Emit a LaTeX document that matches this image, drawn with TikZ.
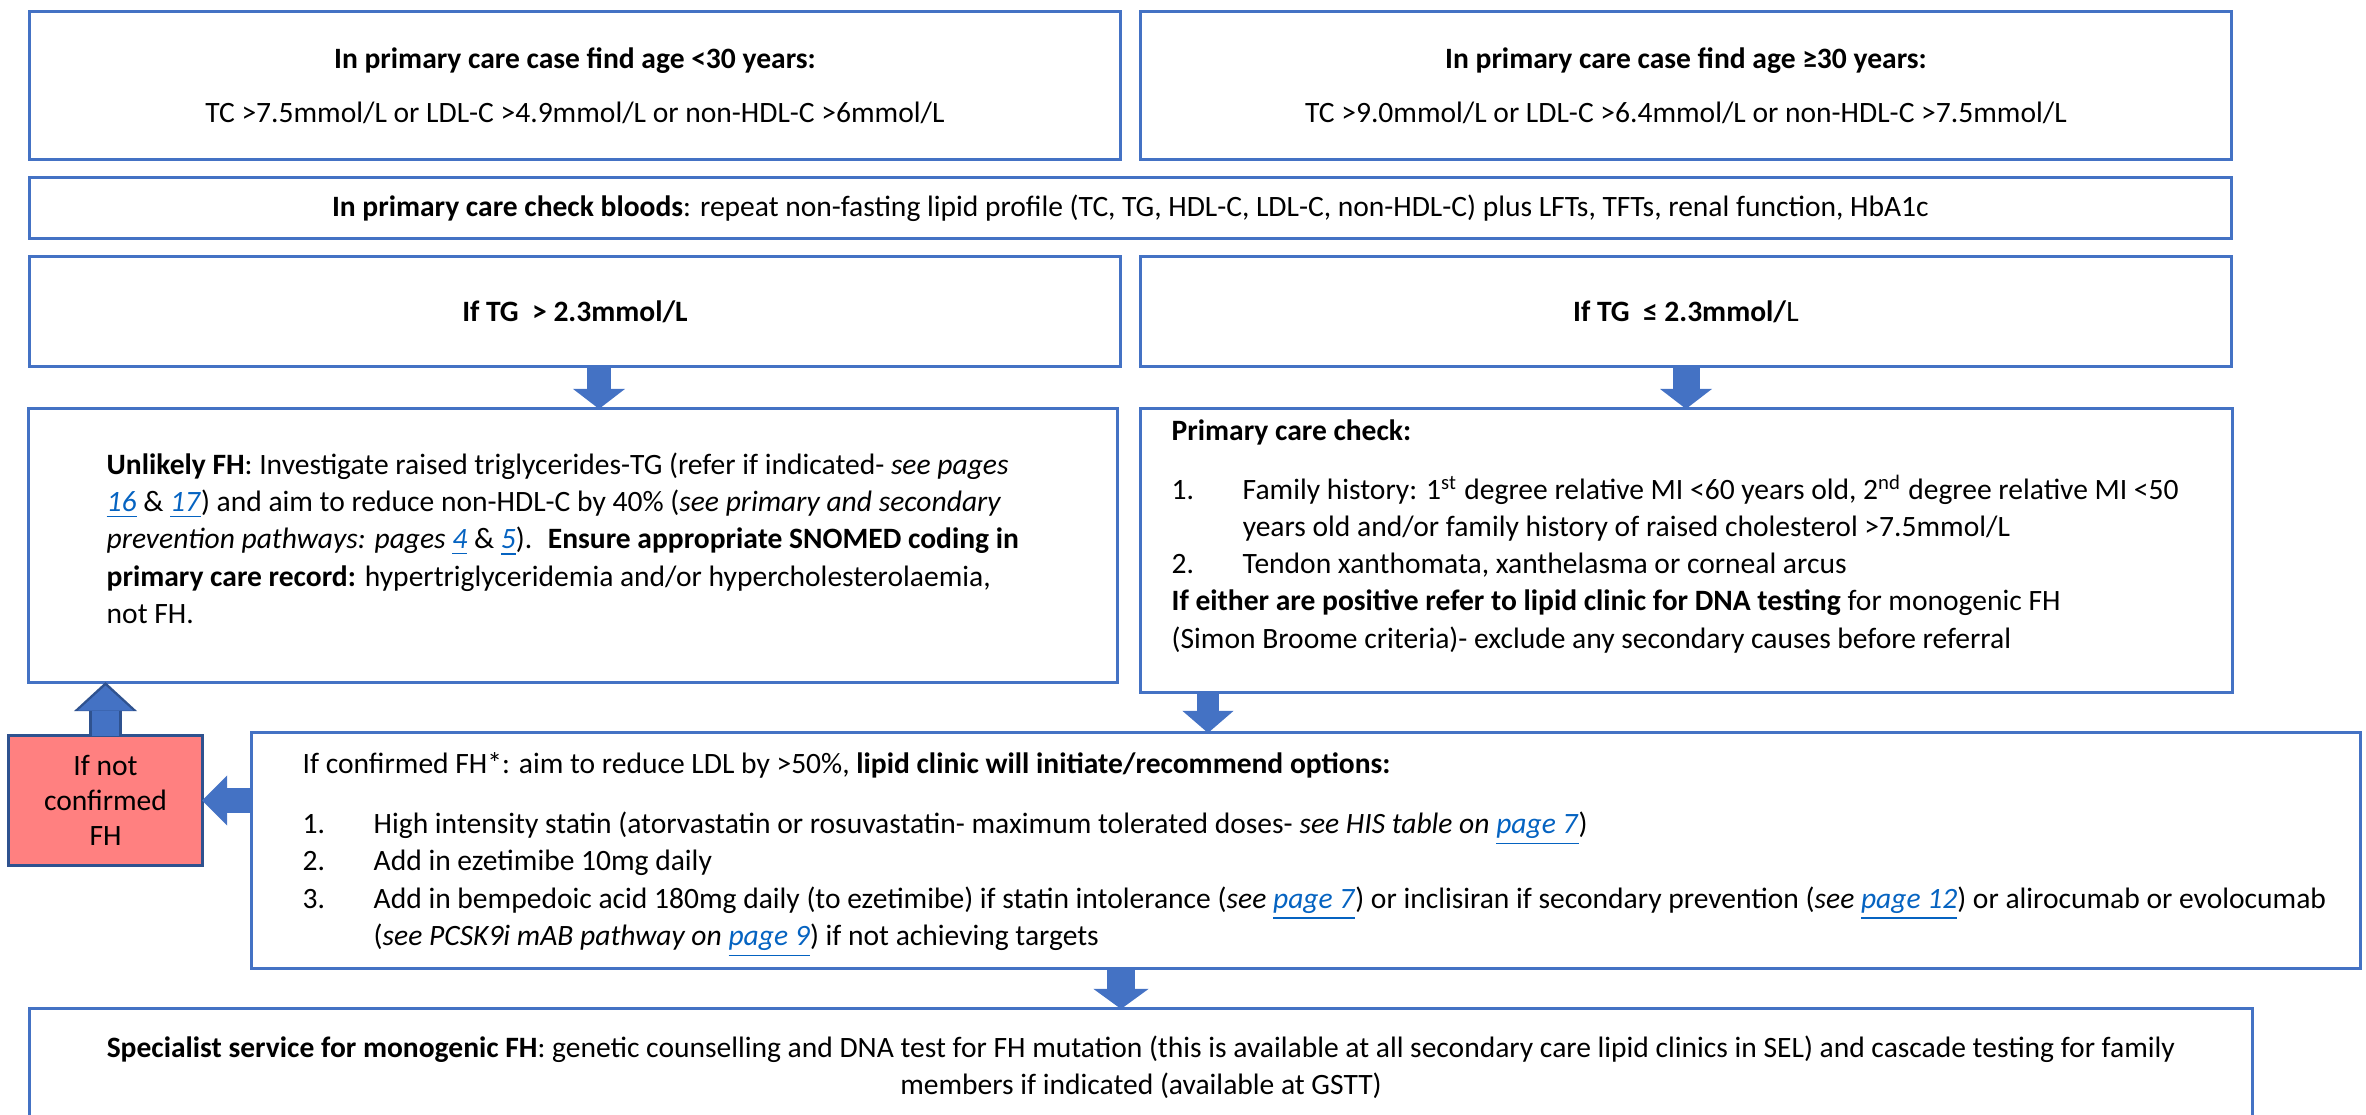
\documentclass[tikz,border=0pt]{standalone}
\usepackage{fontspec}
\setmainfont{Carlito}
\usetikzlibrary{arrows.meta,calc}
\definecolor{boxblue}{HTML}{4472C4}
\definecolor{edgeblue}{HTML}{2F528F}
\definecolor{notfhred}{HTML}{FF8080}
\definecolor{linkblue}{HTML}{0563C1}
\newcommand{\pagelink}[1]{\textcolor{linkblue}{\underline{#1}}}
\newcommand{\itemnum}[1]{\makebox[0.71cm][l]{#1}}
\tikzset{
  flowfont/.style = {font=\fontsize{8.4}{10.6}\selectfont},
  % flow box: blue frame, text centered
  flow_box/.style = {flowfont, draw=boxblue, line width=0.03cm, inner sep=0pt, outer sep=0pt, align=center},
  flow_text/.style = {flowfont, align=left, inner sep=0pt, anchor=north west},
  notfh_box/.style = {flow_box, draw=edgeblue, fill=notfhred, font=\fontsize{8.4}{9.9}\selectfont},
  fat_arrow/.style n args = {3}{draw=boxblue, line width=#1, -{Triangle[width=#2, length=#3, line width=0pt]}}
}

\begin{document}
\begin{tikzpicture}[x=0.01cm, y=-0.01cm]
  \useasboundingbox (0,0) rectangle (2366,1115);
  % Case finding:
  \node [flow_box, minimum width=10.9cm, minimum height=1.47cm] (young) at (575,85.5)
    {\textbf{In primary care case find age <30 years:}\\[4.8pt]TC >7.5mmol/L or LDL-C >4.9mmol/L or non-HDL-C >6mmol/L};
  \node [flow_box, minimum width=10.9cm, minimum height=1.47cm] (older) at (1686,85.5)
    {\textbf{In primary care case find age ≥30 years:}\\[4.8pt]TC >9.0mmol/L or LDL-C >6.4mmol/L or non-HDL-C >7.5mmol/L};
  \node [flow_box, minimum width=22.01cm, minimum height=0.6cm] (bloods) at (1130.5,208)
    {\textbf{In primary care check bloods}: repeat non-fasting lipid profile (TC, TG, HDL-C, LDL-C, non-HDL-C) plus LFTs, TFTs, renal function, HbA1c};
  % TG split:
  \node [flow_box, minimum width=10.9cm, minimum height=1.09cm] (high_tg) at (575,311.5)
    {\textbf{If TG~ > 2.3mmol/L}};
  \node [flow_box, minimum width=10.9cm, minimum height=1.09cm] (low_tg) at (1686,311.5)
    {\textbf{If TG~ ≤ 2.3mmol/}L};
  % Outcome boxes:
  \node [flow_box, minimum width=10.88cm, minimum height=2.73cm] (unlikely) at (573,545.5) {};
  \node [flow_text] (unlikely_txt) at (106,452)
    {\textbf{Unlikely FH}: Investigate raised triglycerides-TG (refer if indicated- \textit{see pages}\\
     \pagelink{\textit{16}} \& \pagelink{\textit{17}}) and aim to reduce non-HDL-C by 40\% (\textit{see primary and secondary}\\
     \textit{prevention pathways: pages} \pagelink{\textit{4}} \& \pagelink{\textit{5}}).~ \textbf{Ensure appropriate SNOMED coding in}\\
     \textbf{primary care record:} hypertriglyceridemia and/or hypercholesterolaemia,\\
     not FH.};
  \node [flow_box, minimum width=10.91cm, minimum height=2.83cm] (check) at (1686.5,550.5) {};
  \node [flow_text] (check_txt) at (1171,419)
    {\textbf{Primary care check:}\\[6.1pt]
     \itemnum{1.}Family history: 1\textsuperscript{st} degree relative MI <60 years old, 2\textsuperscript{nd} degree relative MI <50\\
     \hspace*{0.71cm}years old and/or family history of raised cholesterol >7.5mmol/L\\
     \itemnum{2.}Tendon xanthomata, xanthelasma or corneal arcus\\
     \textbf{If either are positive refer to lipid clinic for DNA testing} for monogenic FH\\
     (Simon Broome criteria)- exclude any secondary causes before referral};
  % Lipid clinic:
  \node [flow_box, minimum width=21.08cm, minimum height=2.35cm] (confirmed) at (1306,850.5) {};
  \node [flow_text] (confirmed_txt) at (302,752)
    {If confirmed FH*: aim to reduce LDL by >50\%, \textbf{lipid clinic will initiate/recommend options:}\\[6.4pt]
     \itemnum{1.}High intensity statin (atorvastatin or rosuvastatin- maximum tolerated doses- \textit{see HIS table on} \pagelink{\textit{page 7}})\\
     \itemnum{2.}Add in ezetimibe 10mg daily\\
     \itemnum{3.}Add in bempedoic acid 180mg daily (to ezetimibe) if statin intolerance (\textit{see} \pagelink{\textit{page 7}}) or inclisiran if secondary prevention (\textit{see} \pagelink{\textit{page 12}}) or alirocumab or evolocumab\\
     \hspace*{0.71cm}(\textit{see PCSK9i mAB pathway on} \pagelink{\textit{page 9}}) if not achieving targets};
  \node [notfh_box, minimum width=1.93cm, minimum height=1.29cm] (notfh) at (105.5,800.5)
    {If not\\confirmed\\FH};
  % Specialist service:
  \node [flow_box, minimum width=22.22cm, minimum height=1.16cm] (specialist) at (1141,1067)
    {\textbf{Specialist service for monogenic FH}: genetic counselling and DNA test for FH mutation (this is available at all secondary care lipid clinics in SEL) and cascade testing for family\\
     members if indicated (available at GSTT)};

  % Block arrows:
  \coordinate (high_foot) at ($(high_tg.south)+(24,0)$);
  \coordinate (check_foot) at ($(check.south)+(-478.5,0)$);
  \coordinate (fh_foot) at ($(confirmed.south -| specialist.north)+(-20,0)$);
  \coordinate (up_tip) at ($(notfh.north |- unlikely.south)+(0,3.5)$);
  \draw [fat_arrow={0.24cm}{0.52cm}{0.2cm}] (high_foot) -- (high_foot |- unlikely.north);
  \draw [fat_arrow={0.27cm}{0.52cm}{0.2cm}] (low_tg.south) -- (low_tg.south |- check.north);
  \draw [fat_arrow={0.22cm}{0.51cm}{0.22cm}] (check_foot) -- (check_foot |- confirmed.north);
  \draw [fat_arrow={0.25cm}{0.5cm}{0.25cm}] (notfh.east -| confirmed.west) -- (notfh.east);
  \draw [fat_arrow={0.32cm}{0.63cm}{0.29cm}, draw=edgeblue] (notfh.north) -- (notfh.north |- unlikely.south);
  \draw [fat_arrow={0.26cm}{0.55cm}{0.25cm}] (notfh.north) -- (up_tip);
  \draw [fat_arrow={0.28cm}{0.55cm}{0.2cm}] (fh_foot) -- (fh_foot |- specialist.north);
\end{tikzpicture}
\end{document}
